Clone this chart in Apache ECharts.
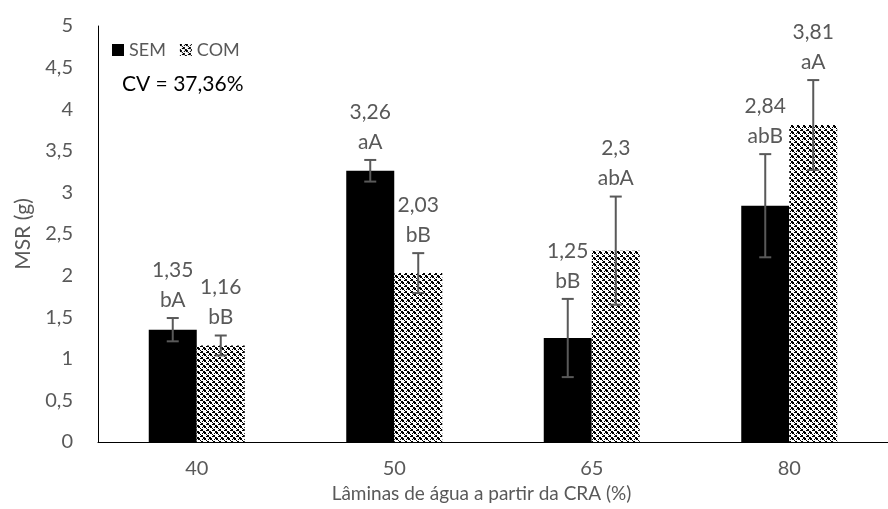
<!DOCTYPE html>
<html>
<head>
<meta charset="utf-8">
<script src="https://cdn.jsdelivr.net/npm/echarts@6/dist/echarts.min.js"></script>
<style>
html,body{margin:0;padding:0;background:#fff;}
#chart{width:888px;height:509px;}
</style>
</head>
<body>
<div id="chart"></div>
<script>
// dados
var categories = ['40', '50', '65', '80'];
var semValues = [1.35, 3.26, 1.25, 2.84];
var comValues = [1.16, 2.03, 2.3, 3.81];
var semErrors = [0.14, 0.13, 0.47, 0.62];
var comErrors = [0.12, 0.24, 0.65, 0.54];
var semLetters = ['bA', 'aA', 'bB', 'abB'];
var comLetters = ['bB', 'bB', 'abA', 'aA'];

var FONT = 'Lato';
var GREY = '#595959';
var BAR_W = 48;

function fmt(v){
	return String(v).replace('.', ',');
}

// textura xadrez da serie COM (6x6)
var TILE = [
	'XX...X',
	'XX..X.',
	'..X...',
	'...XX.',
	'..XXX.',
	'X....X'
];
function makePattern(){
	var c = document.createElement('canvas');
	c.width = 6; c.height = 6;
	var ctx = c.getContext('2d');
	ctx.fillStyle = '#fff';
	ctx.fillRect(0, 0, 6, 6);
	ctx.fillStyle = '#000';
	for (var y = 0; y < 6; y++){
		for (var x = 0; x < 6; x++){
			if (TILE[y].charAt(x) == 'X') ctx.fillRect(x, y, 1, 1);
		}
	}
	return c;
}
var pattern = {image: makePattern(), repeat: 'repeat'};

function errorSeries(values, errors, letters, side){
	return {
		type: 'custom',
		silent: true,
		z: 5,
		data: values.map(function(v, i){ return [i, v, errors[i]]; }),
		renderItem: function(params, api){
			var i = api.value(0), v = api.value(1), e = api.value(2);
			var hi = api.coord([i, v + e]);
			var lo = api.coord([i, v - e]);
			var x = hi[0] + side * BAR_W / 2;
			var cap = 6;
			var ls = {stroke: GREY, lineWidth: 2};
			return {
				type: 'group',
				children: [
					{type: 'line', shape: {x1: x, y1: hi[1], x2: x, y2: lo[1]}, style: ls},
					{type: 'line', shape: {x1: x - cap, y1: hi[1], x2: x + cap, y2: hi[1]}, style: ls},
					{type: 'line', shape: {x1: x - cap, y1: lo[1], x2: x + cap, y2: lo[1]}, style: ls},
					{type: 'text', x: x, y: hi[1] - 3, style: {
						text: fmt(v) + '\n' + letters[params.dataIndex],
						fill: GREY,
						fontFamily: FONT,
						fontSize: 21,
						lineHeight: 30,
						align: 'center',
						verticalAlign: 'bottom'
					}}
				]
			};
		}
	};
}

var myChart = echarts.init(document.getElementById('chart'));
var option = {
	animation: false,
	textStyle: {fontFamily: FONT},
	// a area do grafico continua alem da borda direita da imagem
	grid: {left: 98, width: 802, top: 26, bottom: 67},
	legend: {
		data: ['SEM', 'COM'],
		left: 107,
		top: 36,
		itemWidth: 12,
		itemHeight: 12,
		itemGap: 14,
		icon: 'rect',
		textStyle: {color: GREY, fontSize: 18, fontFamily: FONT}
	},
	title: {
		text: 'CV = 37,36%',
		left: 117,
		top: 69,
		textStyle: {color: '#000', fontSize: 21, fontWeight: 'normal', fontFamily: FONT}
	},
	xAxis: {
		type: 'category',
		data: categories,
		name: 'Lâminas de água a partir da CRA (%)',
		nameLocation: 'middle',
		nameGap: 38,
		nameTextStyle: {color: GREY, fontSize: 19, fontFamily: FONT, padding: [0, 23, 0, 0]},
		axisLine: {lineStyle: {color: '#000', width: 1}},
		axisTick: {show: false},
		axisLabel: {color: GREY, fontSize: 20, margin: 17, fontFamily: FONT}
	},
	yAxis: {
		type: 'value',
		min: 0,
		max: 5,
		interval: 0.5,
		name: 'MSR (g)',
		nameLocation: 'middle',
		nameGap: 64,
		nameTextStyle: {color: GREY, fontSize: 21, fontFamily: FONT},
		axisLine: {show: true, lineStyle: {color: '#000', width: 1}},
		axisTick: {show: false},
		splitLine: {show: false},
		axisLabel: {color: GREY, fontSize: 20, margin: 25, fontFamily: FONT, formatter: fmt}
	},
	series: [
		{
			name: 'SEM',
			type: 'bar',
			barWidth: BAR_W,
			barGap: '0%',
			itemStyle: {color: '#000'},
			data: semValues
		},
		{
			name: 'COM',
			type: 'bar',
			barWidth: BAR_W,
			barGap: '0%',
			itemStyle: {color: pattern},
			data: comValues
		},
		errorSeries(semValues, semErrors, semLetters, -1),
		errorSeries(comValues, comErrors, comLetters, 1)
	]
};
myChart.setOption(option);
</script>
</body>
</html>
